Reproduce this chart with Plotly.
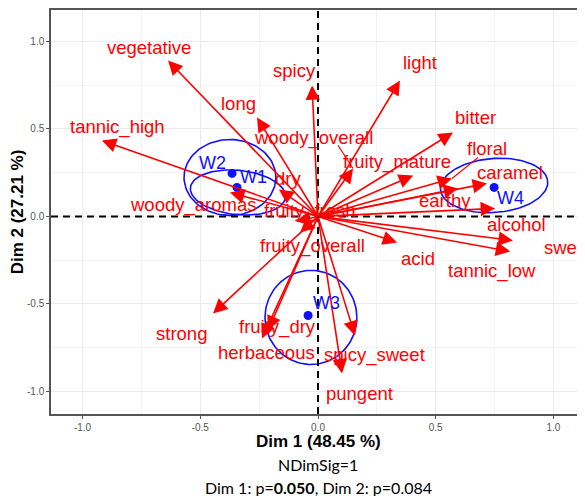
import numpy as np
import plotly.graph_objects as go

# attribute loadings (arrow tips)
variables = ['vegetative', 'tannic_high', 'long', 'spicy', 'light', 'bitter',
             'woody_overall', 'fruity_mature', 'floral', 'caramel', 'earthy',
             'alcohol', 'sweet', 'tannic_low', 'acid', 'dry', 'woody_aromas',
             'fruity_fresh', 'fruity_overall', 'strong', 'fruity_dry',
             'herbaceous', 'spicy_sweet', 'pungent']
dim1 = [-0.637, -0.918, -0.259, -0.025, 0.348, 0.573, 0.149, 0.404, 0.569,
        0.718, 0.595, 0.752, 0.828, 0.816, 0.336, -0.166, -0.374, -0.093,
        -0.076, -0.446, -0.212, -0.238, 0.157, 0.102]
dim2 = [0.891, 0.434, 0.566, 0.749, 0.777, 0.480, 0.274, 0.234, 0.217,
        0.189, 0.160, 0.046, -0.137, -0.200, -0.149, 0.154, 0.137, -0.029,
        -0.091, -0.554, -0.651, -0.697, -0.680, -0.897]
# repelled label positions
label_x = [-0.718, -0.850, -0.336, -0.098, 0.433, 0.667, -0.021, 0.336, 0.718,
           0.816, 0.540, 0.845, 1.062, 0.739, 0.425, -0.127, -0.531, -0.034,
           -0.025, -0.578, -0.170, -0.217, 0.242, 0.178]
label_y = [0.966, 0.509, 0.646, 0.834, 0.880, 0.566, 0.446, 0.314, 0.389,
           0.251, 0.091, -0.046, -0.177, -0.309, -0.240, 0.217, 0.063, 0.034,
           -0.166, -0.669, -0.634, -0.777, -0.794, -1.011]
# leader segments from label to arrow tip (label end points)
leader_vars = ['woody_overall', 'floral']
leader_x = [0.085, 0.680]
leader_y = [0.406, 0.337]

# products
wines = ['W1', 'W2', 'W3', 'W4']
wine_dim1 = [-0.344, -0.365, -0.042, 0.748]
wine_dim2 = [0.166, 0.246, -0.566, 0.166]
wine_label_x = [-0.276, -0.446, 0.038, 0.816]
wine_label_y = [0.223, 0.303, -0.497, 0.103]

# confidence ellipses: centre, semi-axes, rotation (deg)
ell_cx = [-0.340, -0.374, -0.030, 0.748]
ell_cy = [0.137, 0.223, -0.577, 0.177]
ell_rx = [0.204, 0.195, 0.195, 0.229]
ell_ry = [0.126, 0.217, 0.269, 0.154]
ell_rot = [-10, 0, 0, 8]

RED = '#ff0000'
BLUE = '#1010ff'

fig = go.Figure()

t = np.linspace(0, 2 * np.pi, 120)
for cx, cy, rx, ry, rot in zip(ell_cx, ell_cy, ell_rx, ell_ry, ell_rot):
    a = np.deg2rad(rot)
    ex = cx + rx * np.cos(t) * np.cos(a) - ry * np.sin(t) * np.sin(a)
    ey = cy + rx * np.cos(t) * np.sin(a) + ry * np.sin(t) * np.cos(a)
    fig.add_trace(go.Scatter(x=ex, y=ey, mode='lines', line=dict(color=BLUE, width=1.6),
                             hoverinfo='skip', showlegend=False))

fig.add_trace(go.Scatter(x=wine_dim1, y=wine_dim2, mode='markers',
                         marker=dict(color=BLUE, size=9), showlegend=False))

for v, lx, ly in zip(leader_vars, leader_x, leader_y):
    i = variables.index(v)
    fig.add_trace(go.Scatter(x=[lx, dim1[i]], y=[ly, dim2[i]], mode='lines',
                             line=dict(color=RED, width=1.1), hoverinfo='skip', showlegend=False))

fig.add_hline(y=0, line=dict(color='black', width=2, dash='7px,5px'))
fig.add_vline(x=0, line=dict(color='black', width=2, dash='7px,5px'))

for v, x, y in zip(variables, dim1, dim2):
    fig.add_annotation(x=x, y=y, ax=0, ay=0, xref='x', yref='y', axref='x', ayref='y',
                       text='', showarrow=True, arrowhead=2, arrowsize=1.8,
                       arrowwidth=1.6, arrowcolor=RED)

for v, x, y in zip(variables, label_x, label_y):
    fig.add_annotation(x=x, y=y, text=v, showarrow=False,
                       font=dict(color=RED, size=18.5, family='Liberation Sans'))

for w, x, y in zip(wines, wine_label_x, wine_label_y):
    fig.add_annotation(x=x, y=y, text=w, showarrow=False,
                       font=dict(color=BLUE, size=18, family='Liberation Sans'))

fig.add_annotation(x=0.5, y=-0.069, xref='paper', yref='paper', yanchor='middle',
                   text='<b>Dim 1 (48.45 %)</b>', showarrow=False,
                   font=dict(color='black', size=17, family='Liberation Sans'))
fig.add_annotation(x=0.5, y=-0.126, xref='paper', yref='paper', yanchor='middle',
                   text='NDimSig=1', showarrow=False,
                   font=dict(color='black', size=16, family='Lato'))
fig.add_annotation(x=0.5, y=-0.181, xref='paper', yref='paper', yanchor='middle',
                   text='Dim 1: p=<b>0.050</b>, Dim 2: p=0.084', showarrow=False,
                   font=dict(color='black', size=16, family='Lato'))

fig.update_xaxes(range=[-1.134, 1.134], tickvals=[-1, -0.5, 0, 0.5, 1],
                 ticktext=['-1.0', '-0.5', '0.0', '0.5', '1.0'], automargin=False,
                 showgrid=True, gridcolor='#ebebeb', gridwidth=1,
                 minor=dict(dtick=0.25, showgrid=True, gridcolor='#f4f4f4', gridwidth=1),
                 zeroline=False, showline=True, linecolor='#555555', linewidth=1.5, mirror=True,
                 ticks='outside', ticklen=3, tickcolor='#555555',
                 tickfont=dict(size=10, color='#555555', family='Liberation Sans'))
fig.update_yaxes(range=[-1.129, 1.18], tickvals=[-1, -0.5, 0, 0.5, 1],
                 ticktext=['-1.0', '-0.5', '0.0', '0.5', '1.0'], automargin=False,
                 showgrid=True, gridcolor='#ebebeb', gridwidth=1,
                 minor=dict(dtick=0.25, showgrid=True, gridcolor='#f4f4f4', gridwidth=1),
                 zeroline=False, showline=True, linecolor='#555555', linewidth=1.5,
                 ticks='outside', ticklen=3, tickcolor='#555555',
                 tickfont=dict(size=10, color='#555555', family='Liberation Sans'),
                 title=dict(text='<b>Dim 2 (27.21 %)</b>', standoff=2,
                            font=dict(size=17, color='black', family='Liberation Sans')))

# page body adds an 8px margin, so the figure is sized to fill the window
fig.update_layout(width=577, height=488, margin=dict(l=43, r=0, t=2, b=82),
                  plot_bgcolor='white', paper_bgcolor='white', showlegend=False)

fig.write_html("out.html")
